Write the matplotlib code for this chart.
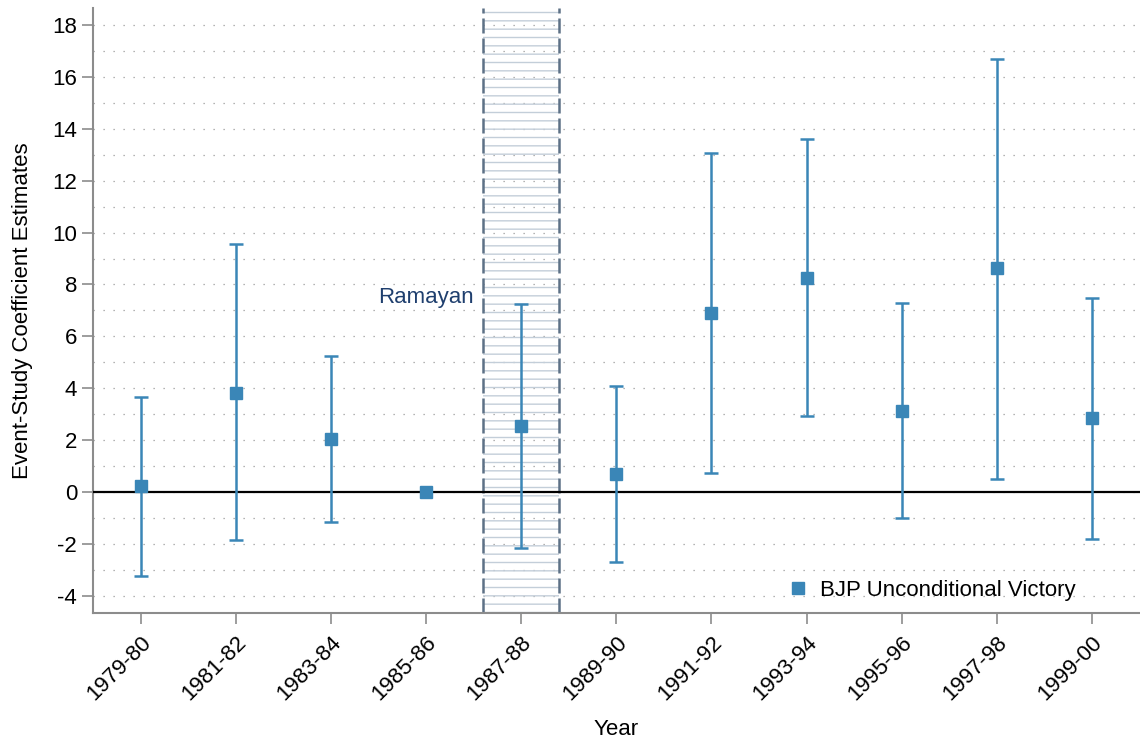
import matplotlib
matplotlib.use("Agg")
import matplotlib.pyplot as plt
import numpy as np

plt.rcParams["font.family"] = ["Liberation Sans", "DejaVu Sans"]
plt.rcParams["axes.unicode_minus"] = False

# data
years = ["1979-80", "1981-82", "1983-84", "1985-86", "1987-88", "1989-90",
         "1991-92", "1993-94", "1995-96", "1997-98", "1999-00"]
coef = [0.23, 3.83, 2.04, 0.0, 2.54, 0.69, 6.90, 8.25, 3.12, 8.64, 2.85]
ci_low = [-3.24, -1.85, -1.16, np.nan, -2.16, -2.70, 0.73, 2.93, -1.00, 0.50, -1.79]
ci_high = [3.66, 9.56, 5.24, np.nan, 7.25, 4.09, 13.07, 13.61, 7.29, 16.69, 7.48]
event_year = "1987-88"
event_label = "Ramayan"

BLUE = "#3a86b7"
GRID = "#9a9a9a"
AXIS = "#8c8c8c"

fig = plt.figure(figsize=(11.4, 7.4), dpi=100)
ax = fig.add_axes([0.0816, 0.172, 0.918, 0.817])

x = np.arange(len(years))
ev = years.index(event_year)

# shaded event window
ax.axvspan(ev - 0.4, ev + 0.4, facecolor="none", edgecolor="#c3ced9",
           hatch="--", linewidth=0, zorder=1)
for xv in (ev - 0.4, ev + 0.4):
    ax.axvline(xv, color="#5d7186", linestyle=(0, (6, 2)), linewidth=1.8, zorder=2)

# dotted grid at every unit
for yv in range(-4, 19):
    ax.axhline(yv, color=GRID, linestyle=(0, (1, 7)), linewidth=0.9, zorder=0)

ax.axhline(0, color="black", linewidth=1.6, zorder=3)

lo = np.array(ci_low)
hi = np.array(ci_high)
c = np.array(coef)
has_ci = ~np.isnan(lo)
ax.errorbar(x[has_ci], c[has_ci], yerr=[c[has_ci] - lo[has_ci], hi[has_ci] - c[has_ci]],
            fmt="none", ecolor=BLUE, elinewidth=1.8, capsize=5, capthick=1.8, zorder=4)
ax.plot(x, c, "s", color=BLUE, markersize=9, zorder=5,
        label="BJP Unconditional Victory")

ax.text(ev - 0.5, 7.5, event_label, ha="right", va="center",
        fontsize=16, color="#1f3f6e")

ax.set_xlim(-0.5, len(years) - 0.5)
ax.set_ylim(-4.65, 18.65)
ax.set_yticks(np.arange(-4, 19, 2))
ax.set_xticks(x)
ax.set_xticklabels(years, rotation=45, ha="right", rotation_mode="anchor")
ax.tick_params(axis="both", labelsize=16, color=AXIS, length=8, width=1.2, direction="out")
ax.tick_params(axis="x", pad=6)

for side in ("top", "right"):
    ax.spines[side].set_visible(False)
for side in ("left", "bottom"):
    ax.spines[side].set_color(AXIS)
    ax.spines[side].set_linewidth(1.5)

ax.set_ylabel("Event-Study Coefficient Estimates", fontsize=16, labelpad=14)
ax.set_xlabel("Year", fontsize=16, labelpad=10)

ax.legend(loc="lower right", bbox_to_anchor=(0.958, -0.014), frameon=False,
          fontsize=16, handletextpad=0.5, markerscale=1.0, handlelength=1.0)

fig.savefig("out.png", dpi=100)
